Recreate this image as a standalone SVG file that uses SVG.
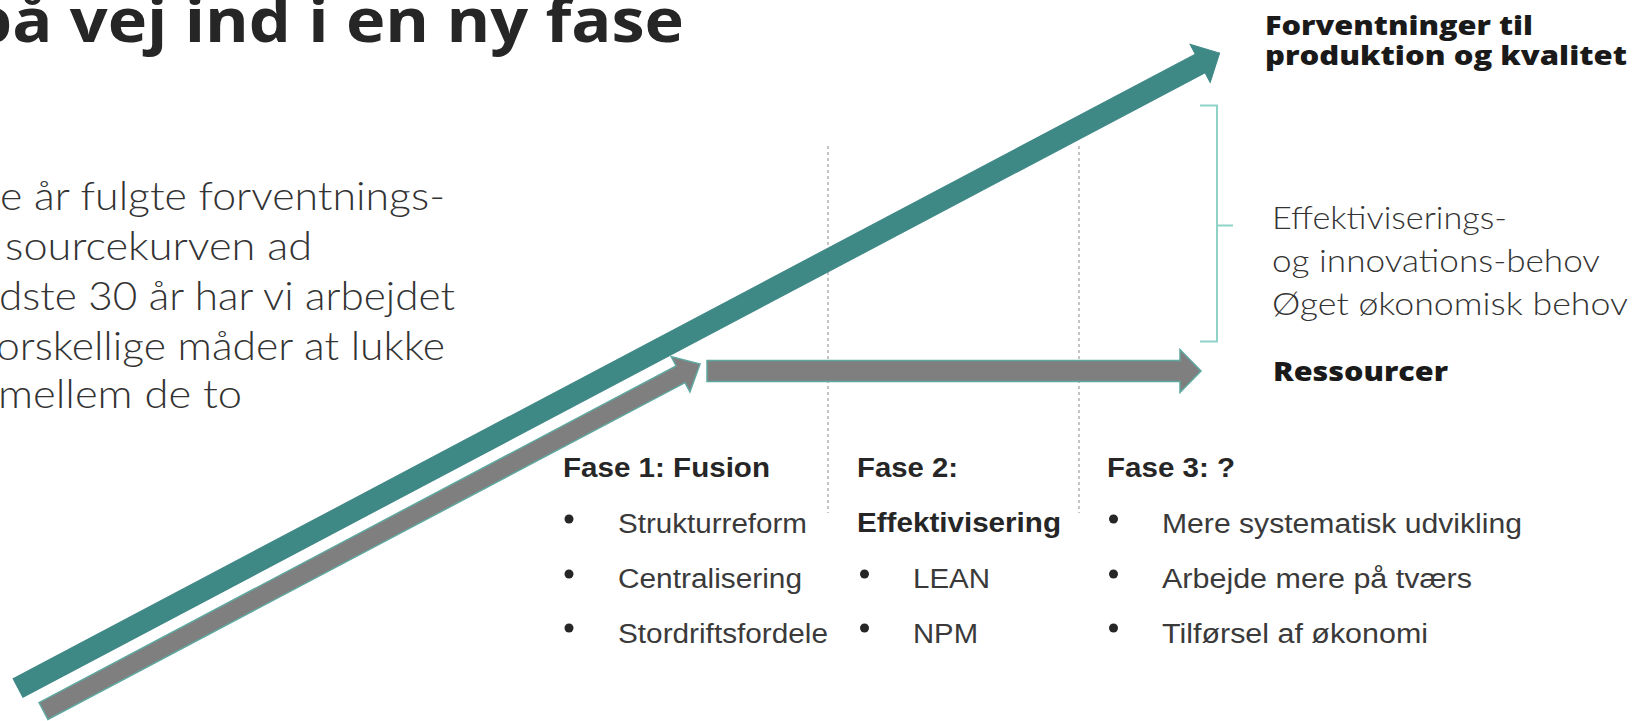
<svg xmlns="http://www.w3.org/2000/svg" width="1637" height="721" viewBox="0 0 1637 721">
<style>
.title{font-family:"Open Sans","Liberation Sans",sans-serif;font-weight:700;font-size:60px;fill:#262626}
.para{font-family:"Lato","Open Sans","Liberation Sans",sans-serif;font-weight:300;font-size:39px;fill:#333333}
.rhead{font-family:"Open Sans","Liberation Sans",sans-serif;font-weight:800;font-size:27px;fill:#1a1a1a}
.rlight{font-family:"Lato","Open Sans","Liberation Sans",sans-serif;font-weight:300;font-size:31px;fill:#333333}
.ph{font-family:"Liberation Sans",Arial,sans-serif;font-weight:700;font-size:27px;fill:#262626}
.it{font-family:"Liberation Sans",Arial,sans-serif;font-weight:400;font-size:27px;fill:#3a3a3a}
.bul{fill:#262626}
.guide{stroke:#8a8a8a;stroke-width:1;stroke-dasharray:3 3;fill:none}
.teal{fill:#3e8886;stroke:#3e8886;stroke-width:1}
.gray{fill:#7f7f7f;stroke:#5fa8a0;stroke-width:1.5}
.brk{stroke:#8fd3c7;stroke-width:2;fill:none}
</style>
<rect width="1637" height="721" fill="#ffffff"/>

<g id="title">
<text class="title" x="-30" y="42" textLength="714" lengthAdjust="spacingAndGlyphs">på vej ind i en ny fase</text>
</g>

<g id="paragraph">
<text class="para" x="0" y="210" textLength="445" lengthAdjust="spacingAndGlyphs">e år fulgte forventnings-</text>
<text class="para" x="5" y="260" textLength="307" lengthAdjust="spacingAndGlyphs">sourcekurven ad</text>
<text class="para" x="-1" y="310" textLength="456" lengthAdjust="spacingAndGlyphs">dste 30 år har vi arbejdet</text>
<text class="para" x="-4" y="360" textLength="449" lengthAdjust="spacingAndGlyphs">orskellige måder at lukke</text>
<text class="para" x="-2" y="408" textLength="244" lengthAdjust="spacingAndGlyphs">mellem de to</text>
</g>

<g id="guides">
<line class="guide" x1="828" y1="146" x2="828" y2="513"/>
<line class="guide" x1="1079" y1="146" x2="1079" y2="513"/>
</g>

<g id="connectors">
<polygon id="arrow-expectations" class="teal" transform="translate(18,688) rotate(-27.85)" points="0,-10.5 1337,-10.5 1337,-21.5 1359,0 1337,21.5 1337,10.5 0,10.5"/>
<polygon id="arrow-resources-rise" class="gray" transform="translate(43.5,711) rotate(-27.86)" points="0,-9.5 720.6,-9.5 720.6,-20 742.6,0 720.6,20 720.6,9.5 0,9.5"/>
<polygon id="arrow-resources-flat" class="gray" points="707,360.5 1180,360.5 1180,349.5 1201,371 1180,392.5 1180,381.5 707,381.5"/>
</g>

<g id="bracket">
<polyline class="brk" points="1200,105.5 1217,105.5 1217,341.5 1200,341.5"/>
<line class="brk" x1="1217" y1="225.5" x2="1233" y2="225.5"/>
</g>

<g id="label-expectations">
<text class="rhead" x="1265" y="35" textLength="268" lengthAdjust="spacingAndGlyphs">Forventninger til</text>
<text class="rhead" x="1265" y="65" textLength="362" lengthAdjust="spacingAndGlyphs">produktion og kvalitet</text>
</g>

<g id="label-gap">
<text class="rlight" x="1272" y="229" textLength="235" lengthAdjust="spacingAndGlyphs">Effektiviserings-</text>
<text class="rlight" x="1272" y="272" textLength="328" lengthAdjust="spacingAndGlyphs">og innovations-behov</text>
<text class="rlight" x="1272" y="315" textLength="356" lengthAdjust="spacingAndGlyphs">Øget økonomisk behov</text>
</g>

<g id="label-resources">
<text class="rhead" x="1273" y="381" font-size="28" textLength="175" lengthAdjust="spacingAndGlyphs">Ressourcer</text>
</g>

<g id="phase1">
<text class="ph" x="563" y="477" textLength="207" lengthAdjust="spacingAndGlyphs">Fase 1: Fusion</text>
<circle class="bul" cx="569" cy="519" r="4.5"/>
<circle class="bul" cx="569" cy="574" r="4.5"/>
<circle class="bul" cx="569" cy="628" r="4.5"/>
<text class="it" x="618" y="533" textLength="189" lengthAdjust="spacingAndGlyphs">Strukturreform</text>
<text class="it" x="618" y="588" textLength="184" lengthAdjust="spacingAndGlyphs">Centralisering</text>
<text class="it" x="618" y="643" textLength="210" lengthAdjust="spacingAndGlyphs">Stordriftsfordele</text>
</g>

<g id="phase2">
<text class="ph" x="857" y="477" textLength="101" lengthAdjust="spacingAndGlyphs">Fase 2:</text>
<text class="ph" x="857" y="532" textLength="204" lengthAdjust="spacingAndGlyphs">Effektivisering</text>
<circle class="bul" cx="864.5" cy="574" r="4.5"/>
<circle class="bul" cx="864.5" cy="628" r="4.5"/>
<text class="it" x="913" y="588" textLength="77" lengthAdjust="spacingAndGlyphs">LEAN</text>
<text class="it" x="913" y="643" textLength="65" lengthAdjust="spacingAndGlyphs">NPM</text>
</g>

<g id="phase3">
<text class="ph" x="1107" y="477" textLength="128" lengthAdjust="spacingAndGlyphs">Fase 3: ?</text>
<circle class="bul" cx="1113.5" cy="519" r="4.5"/>
<circle class="bul" cx="1113.5" cy="574" r="4.5"/>
<circle class="bul" cx="1113.5" cy="628" r="4.5"/>
<text class="it" x="1162" y="533" textLength="360" lengthAdjust="spacingAndGlyphs">Mere systematisk udvikling</text>
<text class="it" x="1162" y="588" textLength="310" lengthAdjust="spacingAndGlyphs">Arbejde mere på tværs</text>
<text class="it" x="1162" y="643" textLength="266" lengthAdjust="spacingAndGlyphs">Tilførsel af økonomi</text>
</g>
</svg>
